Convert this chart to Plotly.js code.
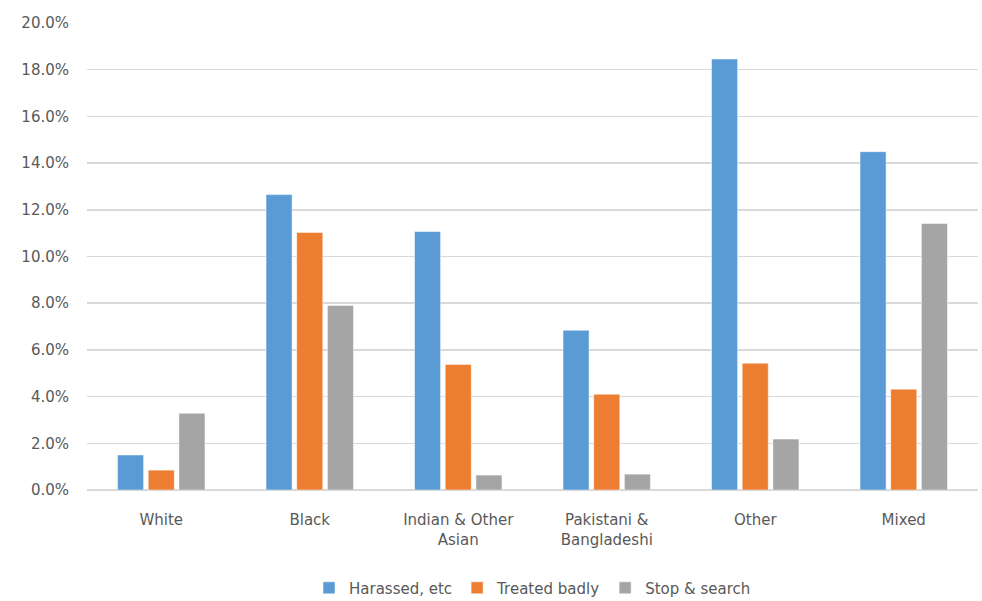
<!DOCTYPE html>
<html>
<head>
<meta charset="utf-8">
<script src="https://cdn.plot.ly/plotly-3.0.1.min.js"></script>
<style>html,body{margin:0;padding:0;background:#fff;}#chart{width:982px;height:601px;}</style>
</head>
<body>
<div id="chart"></div>
<script>
const categories = ["White", "Black", "Indian & Other<br>Asian", "Pakistani &<br>Bangladeshi", "Other", "Mixed"];
const harassed = [0.0150, 0.1265, 0.1107, 0.0684, 0.1846, 0.1449];
const treatedBadly = [0.0085, 0.1103, 0.0538, 0.0410, 0.0543, 0.0432];
const stopSearch = [0.0329, 0.0790, 0.0064, 0.0068, 0.0218, 0.1141];
const seriesNames = ["Harassed, etc", "Treated badly", "Stop & search"];
const colors = ["#5B9BD5", "#ED7D31", "#A5A5A5"];

const values = [harassed, treatedBadly, stopSearch];
const traces = values.map((v, i) => ({
  type: "bar",
  x: categories,
  y: v,
  name: seriesNames[i],
  marker: {color: colors[i], line: {color: "#ffffff", width: 0.5}},
  hoverinfo: "skip"
}));

const font = {family: "DejaVu Sans, sans-serif", size: 15, color: "#595959"};
const layout = {
  width: 982, height: 601,
  margin: {l: 87, r: 4, t: 23, b: 111, autoexpand: false},
  paper_bgcolor: "#ffffff",
  plot_bgcolor: "#ffffff",
  barmode: "group",
  bargap: 0.38,
  bargroupgap: 0.15,
  font: font,
  showlegend: true,
  legend: {orientation: "h", x: 0.5, xanchor: "center", xref: "paper", y: -0.21, yanchor: "middle", font: font, traceorder: "normal", itemwidth: 30},
  xaxis: {type: "category", automargin: false, showgrid: false, zeroline: false, showline: false, ticks: "", tickfont: font, tickangle: 0, ticklabelstandoff: 19},
  yaxis: {range: [0, 0.2], automargin: false, dtick: 0.02, tickformat: ".1%", showgrid: true, gridcolor: "#D9D9D9", gridwidth: 1.5, zeroline: true, zerolinecolor: "#D9D9D9", zerolinewidth: 1.5, showline: false, ticks: "", tickfont: font, ticklabelstandoff: 17}
};
Plotly.newPlot("chart", traces, layout, {displayModeBar: false, staticPlot: true});
</script>
</body>
</html>
